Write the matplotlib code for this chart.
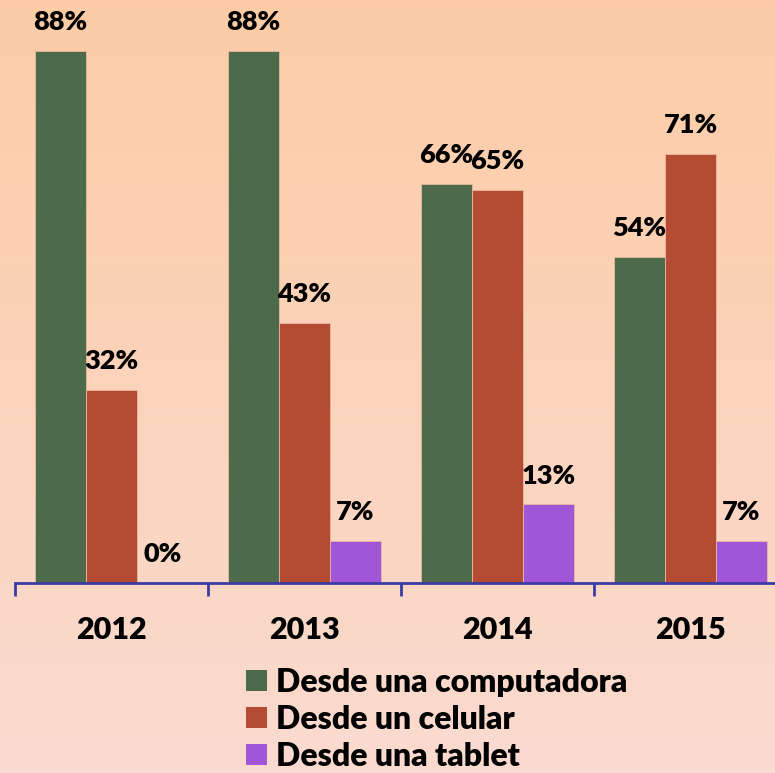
import numpy as np
import matplotlib.pyplot as plt
from matplotlib.patches import Patch
from matplotlib.colors import to_rgb

years = ['2012', '2013', '2014', '2015']
computadora = [88, 88, 66, 54]
celular = [32, 43, 65, 71]
tablet = [0, 7, 13, 7]
series_names = ['Desde una computadora', 'Desde un celular', 'Desde una tablet']
colors = ['#4d6a4a', '#b54b33', '#a156d8']

plt.rcParams['font.family'] = ['Lato', 'DejaVu Sans']

fig = plt.figure(figsize=(7.75, 7.73), dpi=100)

# background gradient, peach at top to pale pink at bottom
bg = fig.add_axes([0, 0, 1, 1], zorder=-10)
top = np.array(to_rgb('#fdcca6'))
bot = np.array(to_rgb('#fadbd0'))
t = np.linspace(0, 1, 256)[:, None]
grad = (top * (1 - t) + bot * t)[:, None, :]
bg.imshow(grad, aspect='auto', extent=[0, 1, 0, 1])
bg.axis('off')

W, H = 775, 773
ax = fig.add_axes([15 / W, (H - 583) / H, 772 / W, 574 / H])
ax.patch.set_alpha(0)

x = np.arange(len(years))
bw = 0.264
data = [computadora, celular, tablet]
for i, (vals, c, name) in enumerate(zip(data, colors, series_names)):
    bars = ax.bar(x + (i - 1) * bw, vals, width=bw, color=c,
                  edgecolor='#e8b9a0', linewidth=0.6, label=name)
    for b, v in zip(bars, vals):
        ax.annotate(f'{v}%', (b.get_x() + b.get_width() / 2, v),
                    xytext=(0, 12), textcoords='offset points',
                    ha='center', va='bottom', fontsize=19.5, fontweight='heavy')

ax.set_xlim(-0.5, len(years) - 0.5)
ax.set_ylim(0, 574 / 6.045)

for s in ['top', 'right', 'left']:
    ax.spines[s].set_visible(False)
ax.spines['bottom'].set_color('#3b3ba6')
ax.spines['bottom'].set_linewidth(2)
ax.set_yticks([])

ax.set_xticks(np.arange(len(years) + 1) - 0.5, minor=True)
ax.set_xticks(x)
ax.set_xticklabels(years, fontsize=22, fontweight='heavy')
ax.tick_params(axis='x', which='major', length=0, pad=24)
ax.tick_params(axis='x', which='minor', length=9, width=2, color='#3b3ba6',
               direction='out')

handles = [Patch(facecolor=c, label=n) for c, n in zip(colors, series_names)]
fig.legend(handles=handles, loc='upper left', bbox_to_anchor=(233 / W, 1 - 655 / H),
           frameon=False, prop={'weight': 'heavy', 'size': 23},
           handlelength=0.66, handleheight=0.66, handletextpad=0.3,
           labelspacing=0.25, borderaxespad=0)

fig.savefig('out.png', dpi=100)
